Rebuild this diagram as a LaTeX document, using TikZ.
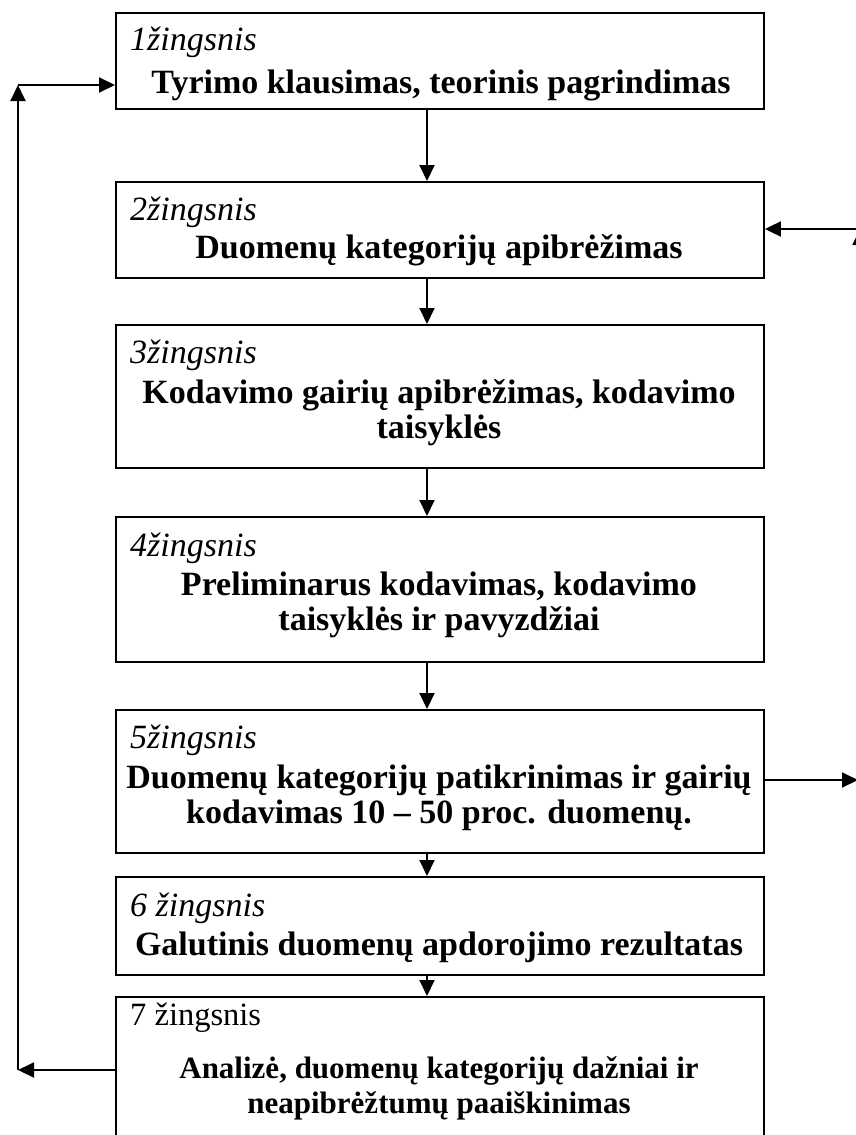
\documentclass[tikz,border=0pt]{standalone}
\usepackage{fontspec}
\setmainfont{Liberation Serif}
\usetikzlibrary{arrows.meta}
% centred block of lines whose reference point is the first baseline
\newcommand{\mlines}[1]{\begin{tabular}[t]{@{}c@{}}#1\end{tabular}}

\begin{document}
\begin{tikzpicture}[x=1pt,y=-1pt,
  box/.style={draw, line width=1.9pt, inner sep=0pt, anchor=north west, minimum width=648pt},
  arr/.style={line width=1.9pt, -{Triangle[length=16pt,width=15pt]}},
  steplbl/.style={anchor=base west, inner sep=0pt, font=\fontsize{34}{35}\selectfont\itshape},
  steplblup/.style={anchor=base west, inner sep=0pt, font=\fontsize{32.5}{35}\selectfont},
  maintxt/.style={anchor=base, inner sep=0pt, font=\fontsize{34}{35}\selectfont\bfseries},
  maintxtsm/.style={maintxt, font=\fontsize{31}{35}\selectfont\bfseries},
]
\useasboundingbox (0,0) rectangle (856,1135);

% step boxes
\node[box, minimum height=96pt]  (b1) at (115,12)  {};
\node[box, minimum height=96pt]  (b2) at (115,181) {};
\node[box, minimum height=143pt] (b3) at (115,324) {};
\node[box, minimum height=145pt] (b4) at (115,516) {};
\node[box, minimum height=143pt] (b5) at (115,709) {};
\node[box, minimum height=98pt]  (b6) at (115,876) {};
\node[box, minimum height=174pt] (b7) at (115,996) {};

% step numbers
\node[steplbl]   (s1) at (130,50)   {1žingsnis};
\node[steplbl]   (s2) at (130,220)  {2žingsnis};
\node[steplbl]   (s3) at (130,363)  {3žingsnis};
\node[steplbl]   (s4) at (130,556)  {4žingsnis};
\node[steplbl]   (s5) at (130,748)  {5žingsnis};
\node[steplbl]   (s6) at (130,916)  {6 žingsnis};
\node[steplblup] (s7) at (130,1025) {7 žingsnis};

% step descriptions
\node[maintxt]   (t1) at (441,93)   {\mlines{Tyrimo klausimas, teorinis pagrindimas}};
\node[maintxt]   (t2) at (439,258)  {\mlines{Duomenų kategorijų apibrėžimas}};
\node[maintxt]   (t3) at (439,403)  {\mlines{Kodavimo gairių apibrėžimas, kodavimo\\ taisyklės}};
\node[maintxt]   (t4) at (439,595)  {\mlines{Preliminarus kodavimas, kodavimo\\ taisyklės ir pavyzdžiai}};
\node[maintxt]   (t5) at (439,788)  {\mlines{Duomenų kategorijų patikrinimas ir gairių\\ kodavimas 10 – 50 proc. duomenų.}};
\node[maintxt]   (t6) at (439,955)  {\mlines{Galutinis duomenų apdorojimo rezultatas}};
\node[maintxtsm] (t7) at (439,1078) {\mlines{Analizė, duomenų kategorijų dažniai ir\\ neapibrėžtumų paaiškinimas}};

% main flow
\coordinate (ax) at (427,0);
\draw[arr] (b1.south -| ax) -- (b2.north -| ax);
\draw[arr] (b2.south -| ax) -- (b3.north -| ax);
\draw[arr] (b3.south -| ax) -- (b4.north -| ax);
\draw[arr] (b4.south -| ax) -- (b5.north -| ax);
\draw[arr] (b5.south -| ax) -- (b6.north -| ax);
\draw[arr] (b6.south -| ax) -- (b7.north -| ax);

% feedback loop on the left
\coordinate (l1) at (18,1070);
\coordinate (l3) at (18,85);
\draw[arr] (b7.west |- l1) -- (l1);
\draw[arr] (l1) -- (l3);
\draw[arr] (l3) -- (b1.west |- l3);

% loop on the right
\coordinate (r1) at (858,780);
\coordinate (r2) at (860,229);
\coordinate (r3) at (860,760);
\draw[arr] (b5.east |- r1) -- (r1);
\draw[arr] (r3) -- (r2);
\draw[arr] (r2) -- (b2.east |- r2);
\end{tikzpicture}
\end{document}
